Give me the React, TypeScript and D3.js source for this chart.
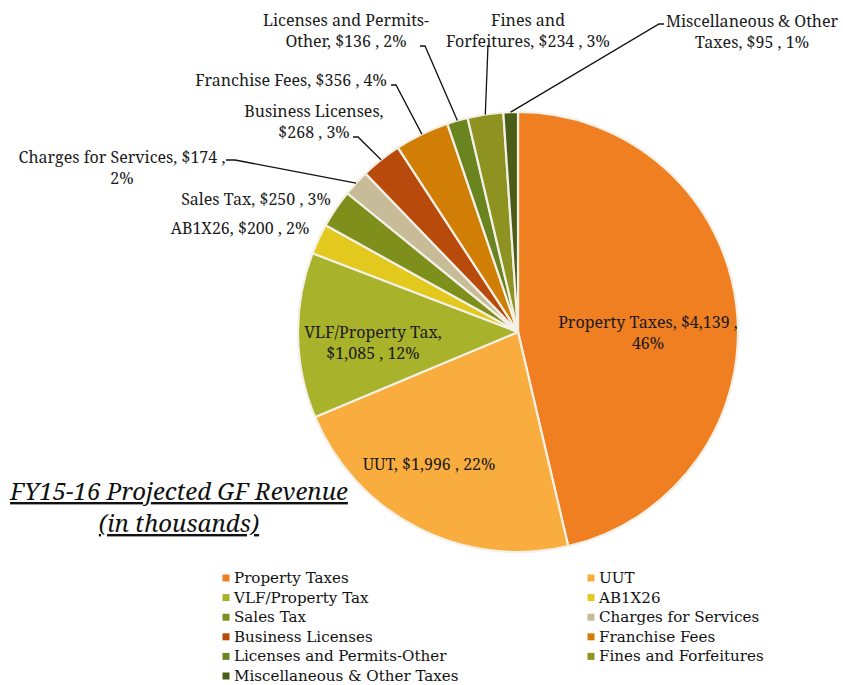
import React from "react";
import * as d3 from "d3";

const categories = [
  "Property Taxes",
  "UUT",
  "VLF/Property Tax",
  "AB1X26",
  "Sales Tax",
  "Charges for Services",
  "Business Licenses",
  "Franchise Fees",
  "Licenses and Permits-Other",
  "Fines and Forfeitures",
  "Miscellaneous & Other Taxes",
];
const values = [4139, 1996, 1085, 200, 250, 174, 268, 356, 136, 234, 95];
const percents = [46, 22, 12, 2, 3, 2, 3, 4, 2, 3, 1];
const colors = [
  "#F07F22",
  "#F9AD3E",
  "#A8B22A",
  "#E3C91E",
  "#7E8F1C",
  "#C8BC98",
  "#B84A0C",
  "#D07E06",
  "#6A8520",
  "#8E9220",
  "#4A5E18",
];
const labelLines = [
  ["Property Taxes, $4,139 ,", "46%"],
  ["UUT, $1,996 , 22%"],
  ["VLF/Property Tax,", "$1,085 , 12%"],
  ["AB1X26, $200 , 2%"],
  ["Sales Tax, $250 , 3%"],
  ["Charges for Services, $174 ,", "2%"],
  ["Business Licenses,", "$268 , 3%"],
  ["Franchise Fees, $356 , 4%"],
  ["Licenses and Permits-", "Other, $136 , 2%"],
  ["Fines and", "Forfeitures, $234 , 3%"],
  ["Miscellaneous & Other", "Taxes, $95 , 1%"],
];
const titleLines = ["FY15-16 Projected GF Revenue", "(in thousands)"];

// layout (positions only)
const W = 843;
const H = 685;
const CX = 518;
const CY = 332;
const R = 220;
const FONT = '"Noto Serif", "DejaVu Serif", serif';
const LEGEND_FONT = '"DejaVu Serif", serif';
const LABEL_SIZE = 16;
const LINE_H = 21;
// label anchor: [x, baselineOfFirstLine]
const labelPos: [number, number][] = [
  [648, 328],
  [429, 470],
  [373, 338],
  [240, 234],
  [256, 205],
  [122, 163],
  [314, 117],
  [291, 86],
  [346, 26],
  [528, 26],
  [752, 27],
];
// leader elbows (from label towards arc), null = no leader
const leaderElbows: ([number, number][] | null)[] = [
  null,
  null,
  null,
  null,
  null,
  [[226, 160], [235, 160]],
  [[353, 137], [358, 137]],
  [[391, 85], [396, 85]],
  [[420, 46], [425, 46]],
  [[488, 45]],
  [[664, 24], [659, 24]],
];

export default function App() {
  const pie = d3
    .pie<number>()
    .sort(null)
    .value((d) => d)
    .startAngle(0)
    .endAngle(2 * Math.PI);
  const arcs = pie(values);
  const arcGen = d3.arc<d3.PieArcDatum<number>>().innerRadius(0).outerRadius(R);

  const legendCols = [226, 591];
  const legendY0 = 578;
  const legendStep = 19.6;

  return (
    <svg
      width={W}
      height={H}
      style={{ position: "absolute", left: 0, top: 0, background: "#fff", fontFamily: FONT }}
    >
      <g transform={`translate(${CX},${CY})`}>
        {arcs.map((a, i) => (
          <path
            key={i}
            d={arcGen(a) || ""}
            fill={colors[i]}
            stroke="#F3F0E6"
            strokeWidth={2.2}
            strokeLinejoin="round"
          />
        ))}
      </g>
      {arcs.map((a, i) => {
        const el = leaderElbows[i];
        if (!el) return null;
        const mid = (a.startAngle + a.endAngle) / 2;
        const px = CX + R * Math.sin(mid);
        const py = CY - R * Math.cos(mid);
        const pts = [...el].reverse();
        const d = d3.line()([[px, py], ...pts] as [number, number][]);
        return (
          <path key={"l" + i} d={d || ""} fill="none" stroke="#111" strokeWidth={1.3} />
        );
      })}
      {labelLines.map((lines, i) => (
        <text
          key={"t" + i}
          x={labelPos[i][0]}
          y={labelPos[i][1]}
          textAnchor="middle"
          fontSize={LABEL_SIZE}
          fill="#1a1a1a"
        >
          {lines.map((ln, j) => (
            <tspan key={j} x={labelPos[i][0]} dy={j === 0 ? 0 : LINE_H}>
              {ln}
            </tspan>
          ))}
        </text>
      ))}
      {titleLines.map((t, j) => (
        <text
          key={"title" + j}
          x={179}
          y={500 + j * 32}
          textAnchor="middle"
          fontSize={24}
          fontStyle="italic"
          textDecoration="underline"
          fill="#111"
        >
          {t}
        </text>
      ))}
      {categories.map((c, i) => {
        const col = i % 2;
        const row = Math.floor(i / 2);
        const x = legendCols[col];
        const y = legendY0 + row * legendStep;
        return (
          <g key={"lg" + i}>
            <rect x={x - 3.5} y={y - 3.5} width={7} height={7} fill={colors[i]} />
            <text
              x={x + 8}
              y={y + 5}
              fontSize={15.1}
              fill="#111"
              style={{ fontFamily: LEGEND_FONT }}
            >
              {c}
            </text>
          </g>
        );
      })}
    </svg>
  );
}
